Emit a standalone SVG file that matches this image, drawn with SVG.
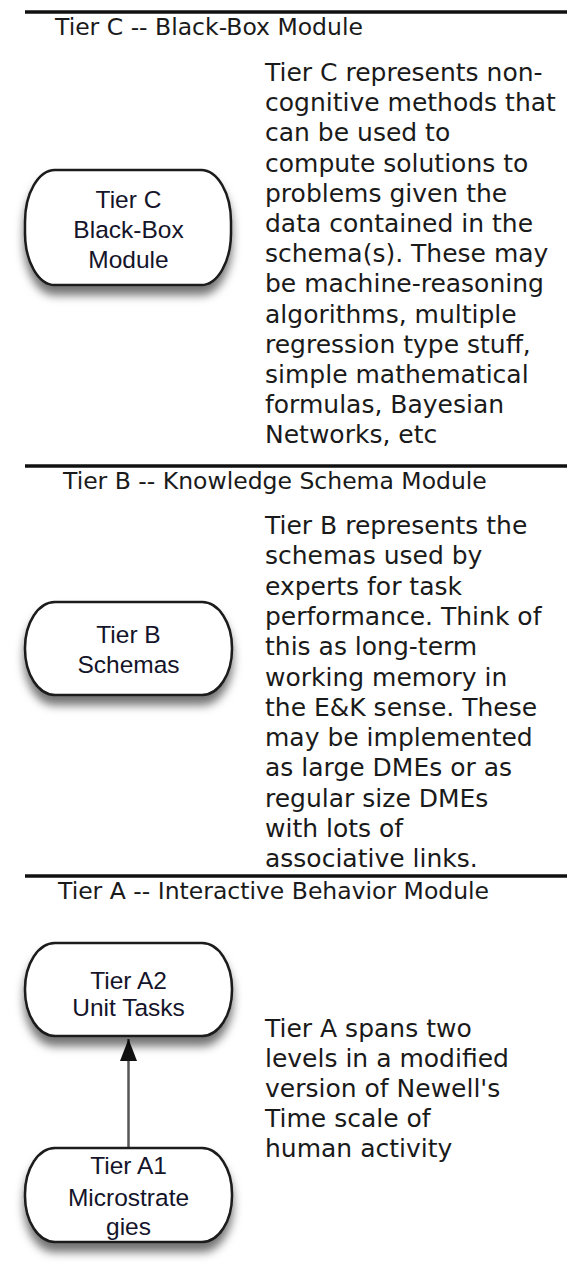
<svg xmlns="http://www.w3.org/2000/svg" width="567" height="1284" viewBox="0 0 567 1284">
  <style>
    .rule { stroke: #111; stroke-width: 3.5; }
    .head { font-family: "DejaVu Sans", Verdana, sans-serif; font-size: 23.5px; fill: #1a1a1a; }
    .body { font-family: "DejaVu Sans", Verdana, sans-serif; font-size: 25px; fill: #1a1a1a; }
    .node rect { fill: #ffffff; stroke: #1a1a1a; stroke-width: 2.5; }
    .node text { font-family: "Liberation Sans", Arial, sans-serif; font-size: 24.5px; fill: #14142a; text-anchor: middle; }
    .edge { stroke: #555; stroke-width: 2.5; fill: none; }
  </style>
  <defs>
    <filter id="shadow" x="-20%" y="-20%" width="140%" height="170%">
      <feDropShadow dx="0" dy="9" stdDeviation="5" flood-color="#000" flood-opacity="0.55"/>
    </filter>
    <marker id="arrow" viewBox="0 0 22 17" refX="22" refY="8.5" markerWidth="22" markerHeight="17" markerUnits="userSpaceOnUse" orient="auto">
      <path d="M0,0 L22,8.5 L0,17 z" fill="#111"/>
    </marker>
  </defs>

  <rect width="567" height="1284" fill="#ffffff"/>

  <!-- tier separators, headings and descriptions -->
  <g id="tier-c-band">
    <line class="rule" x1="25" y1="12" x2="567" y2="12"/>
    <text class="head" x="55" y="35">Tier C -- Black-Box Module</text>
    <text class="body" x="265" y="81">
      <tspan x="265" dy="0">Tier C represents non-</tspan>
      <tspan x="265" dy="30.2">cognitive methods that</tspan>
      <tspan x="265" dy="30.2">can be used to</tspan>
      <tspan x="265" dy="30.2">compute solutions to</tspan>
      <tspan x="265" dy="30.2">problems given the</tspan>
      <tspan x="265" dy="30.2">data contained in the</tspan>
      <tspan x="265" dy="30.2">schema(s). These may</tspan>
      <tspan x="265" dy="30.2">be machine-reasoning</tspan>
      <tspan x="265" dy="30.2">algorithms, multiple</tspan>
      <tspan x="265" dy="30.2">regression type stuff,</tspan>
      <tspan x="265" dy="30.2">simple mathematical</tspan>
      <tspan x="265" dy="30.2">formulas, Bayesian</tspan>
      <tspan x="265" dy="30.2">Networks, etc</tspan>
    </text>
  </g>

  <g id="tier-b-band">
    <line class="rule" x1="25" y1="466" x2="567" y2="466"/>
    <text class="head" x="63" y="489">Tier B -- Knowledge Schema Module</text>
    <text class="body" x="265" y="534">
      <tspan x="265" dy="0">Tier B represents the</tspan>
      <tspan x="265" dy="30.3">schemas used by</tspan>
      <tspan x="265" dy="30.3">experts for task</tspan>
      <tspan x="265" dy="30.3">performance. Think of</tspan>
      <tspan x="265" dy="30.3">this as long-term</tspan>
      <tspan x="265" dy="30.3">working memory in</tspan>
      <tspan x="265" dy="30.3">the E&amp;K sense. These</tspan>
      <tspan x="265" dy="30.3">may be implemented</tspan>
      <tspan x="265" dy="30.3">as large DMEs or as</tspan>
      <tspan x="265" dy="30.3">regular size DMEs</tspan>
      <tspan x="265" dy="30.3">with lots of</tspan>
      <tspan x="265" dy="30.3">associative links.</tspan>
    </text>
  </g>

  <g id="tier-a-band">
    <line class="rule" x1="25" y1="876" x2="567" y2="876"/>
    <text class="head" x="58" y="899">Tier A -- Interactive Behavior Module</text>
    <text class="body" x="265" y="1037">
      <tspan x="265" dy="0">Tier A spans two</tspan>
      <tspan x="265" dy="30">levels in a modified</tspan>
      <tspan x="265" dy="30">version of Newell's</tspan>
      <tspan x="265" dy="30">Time scale of</tspan>
      <tspan x="265" dy="30">human activity</tspan>
    </text>
  </g>

  <!-- connectors -->
  <g id="connectors">
    <line class="edge" x1="128.5" y1="1148" x2="128.5" y2="1039" marker-end="url(#arrow)"/>
  </g>

  <!-- nodes -->
  <g id="node-tier-c" class="node">
    <rect x="25" y="170" width="206" height="115" rx="30" ry="52" filter="url(#shadow)"/>
    <text x="128.5" y="208">Tier C</text>
    <text x="128.5" y="238">Black-Box</text>
    <text x="128.5" y="268">Module</text>
  </g>

  <g id="node-tier-b" class="node">
    <rect x="25" y="602" width="207" height="93" rx="30" ry="46" filter="url(#shadow)"/>
    <text x="128.5" y="643">Tier B</text>
    <text x="128.5" y="673">Schemas</text>
  </g>

  <g id="node-tier-a2" class="node">
    <rect x="25" y="943" width="207" height="93" rx="30" ry="46" filter="url(#shadow)"/>
    <text x="128.5" y="989">Tier A2</text>
    <text x="128.5" y="1016">Unit Tasks</text>
  </g>

  <g id="node-tier-a1" class="node">
    <rect x="25" y="1148" width="207" height="94" rx="30" ry="46" filter="url(#shadow)"/>
    <text x="128.5" y="1174">Tier A1</text>
    <text x="128.5" y="1206">Microstrate</text>
    <text x="128.5" y="1235">gies</text>
  </g>
</svg>
